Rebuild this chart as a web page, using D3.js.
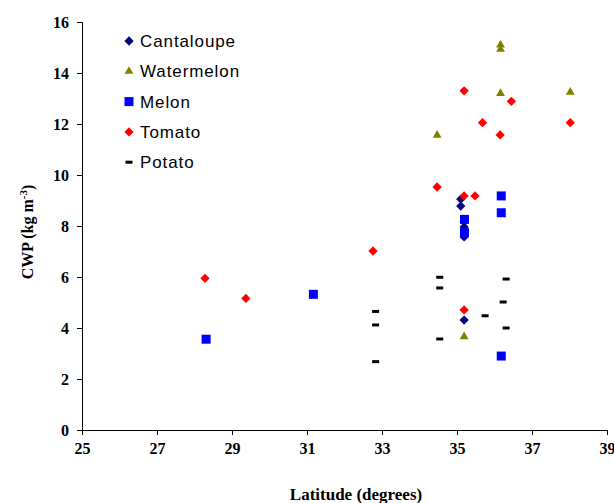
<!DOCTYPE html>
<html lang="en">

<head>
    <meta charset="UTF-8">
    <title>CWP vs Latitude</title>
    <script src="https://d3js.org/d3.v7.min.js"></script>
    <style>
        body {
            margin: 0;
            background: #fff;
        }

        .tick text {
            font-family: "Liberation Serif", "Times New Roman", serif;
            font-weight: bold;
            font-size: 16px;
        }
    </style>
</head>

<body>
    <div id="chart"></div>

    <script>
        // Latitude (deg) and CWP (kg m-3)
        const cantaloupeLat = [35.1, 35.1, 35.19, 35.19, 35.19, 35.19];
        const cantaloupeCwp = [9.05, 8.78, 8.16, 7.96, 7.57, 4.31];

        const watermelonLat = [36.16, 36.16, 36.16, 38.02, 34.47, 35.19];
        const watermelonCwp = [15.1, 14.93, 13.2, 13.25, 11.56, 3.66];

        const melonLat = [36.18, 36.18, 35.2, 35.2, 36.18, 31.17, 28.31];
        const melonCwp = [9.18, 8.52, 8.26, 7.74, 2.9, 5.32, 3.56];

        const tomatoLat = [28.28, 29.37, 32.76, 34.47, 35.19, 35.48, 35.19, 35.19, 36.45, 35.68, 36.15, 38.02];
        const tomatoCwp = [5.95, 5.16, 7.02, 9.53, 9.18, 9.18, 4.71, 13.3, 12.89, 12.05, 11.57, 12.05];

        const potatoLat = [32.83, 32.83, 32.83, 34.54, 34.54, 34.54, 35.75, 36.31, 36.23, 36.31];
        const potatoCwp = [4.65, 4.12, 2.68, 5.99, 5.57, 3.57, 4.48, 5.92, 5.02, 4.0];

        const xTicks = [25, 27, 29, 31, 33, 35, 37, 39];
        const yTicks = [0, 2, 4, 6, 8, 10, 12, 14, 16];

        const seriesNames = ["Cantaloupe", "Watermelon", "Melon", "Tomato", "Potato"];

        const width = 614, height = 503;
        const margin = { top: 22, right: 7, bottom: 73, left: 82 };

        const svg = d3.select("#chart")
            .append("svg")
            .attr("width", width)
            .attr("height", height);

        const x = d3.scaleLinear()
            .domain([25, 39])
            .range([margin.left, width - margin.right]);

        const y = d3.scaleLinear()
            .domain([0, 16])
            .range([height - margin.bottom, margin.top]);

        // axes
        svg.append("g")
            .attr("transform", `translate(0,${height - margin.bottom})`)
            .call(d3.axisBottom(x).tickValues(xTicks).tickFormat(d3.format("d")).tickSize(5).tickPadding(8))
            .call(g => g.selectAll("line, path").attr("stroke", "#000"));

        svg.append("g")
            .attr("transform", `translate(${margin.left},0)`)
            .call(d3.axisLeft(y).tickValues(yTicks).tickSize(5).tickPadding(8))
            .call(g => g.selectAll("line, path").attr("stroke", "#000"));

        // marker drawers
        function drawMarker(g, name) {
            if (name === "Cantaloupe" || name === "Tomato") {
                g.append("path")
                    .attr("d", d3.symbol(d3.symbolDiamond2, 55)())
                    .attr("fill", name === "Tomato" ? "#ff0000" : "#000080");
            }
            if (name === "Watermelon") {
                g.append("path")
                    .attr("d", d3.symbol(d3.symbolTriangle, 34)())
                    .attr("fill", "#808000");
            }
            if (name === "Melon") {
                g.append("rect")
                    .attr("x", -4.5).attr("y", -4.5)
                    .attr("width", 9).attr("height", 9)
                    .attr("fill", "#0000ff");
            }
            if (name === "Potato") {
                g.append("rect")
                    .attr("x", -3.5).attr("y", -1.5)
                    .attr("width", 7).attr("height", 3)
                    .attr("fill", "#000");
            }
        }

        const series = [
            { name: "Cantaloupe", lat: cantaloupeLat, cwp: cantaloupeCwp },
            { name: "Watermelon", lat: watermelonLat, cwp: watermelonCwp },
            { name: "Melon", lat: melonLat, cwp: melonCwp },
            { name: "Tomato", lat: tomatoLat, cwp: tomatoCwp },
            { name: "Potato", lat: potatoLat, cwp: potatoCwp }
        ];

        series.forEach(s => {
            s.lat.forEach((lat, i) => {
                const g = svg.append("g")
                    .attr("transform", `translate(${x(lat)},${y(s.cwp[i])})`);
                drawMarker(g, s.name);
            });
        });

        // legend
        const legend = svg.append("g").attr("transform", "translate(129,41)");
        seriesNames.forEach((name, i) => {
            const row = legend.append("g").attr("transform", `translate(0,${i * 30.3})`);
            drawMarker(row, name);
            row.append("text")
                .attr("x", 11)
                .attr("y", 6)
                .attr("font-family", "Liberation Sans, Arial, sans-serif")
                .attr("font-size", 17)
                .attr("letter-spacing", 0.9)
                .text(name);
        });

        // axis titles
        svg.append("text")
            .attr("x", 356)
            .attr("y", 500)
            .attr("text-anchor", "middle")
            .attr("font-family", "Liberation Serif, Times New Roman, serif")
            .attr("font-weight", "bold")
            .attr("font-size", 17)
            .text("Latitude (degrees)");

        const yTitle = svg.append("text")
            .attr("transform", "translate(33,232) rotate(-90)")
            .attr("text-anchor", "middle")
            .attr("font-family", "Liberation Serif, Times New Roman, serif")
            .attr("font-weight", "bold")
            .attr("font-size", 16);
        yTitle.append("tspan").text("CWP (kg m");
        yTitle.append("tspan").attr("dy", -6).attr("font-size", 11).text("-3");
        yTitle.append("tspan").attr("dy", 6).text(")");
    </script>
</body>

</html>
